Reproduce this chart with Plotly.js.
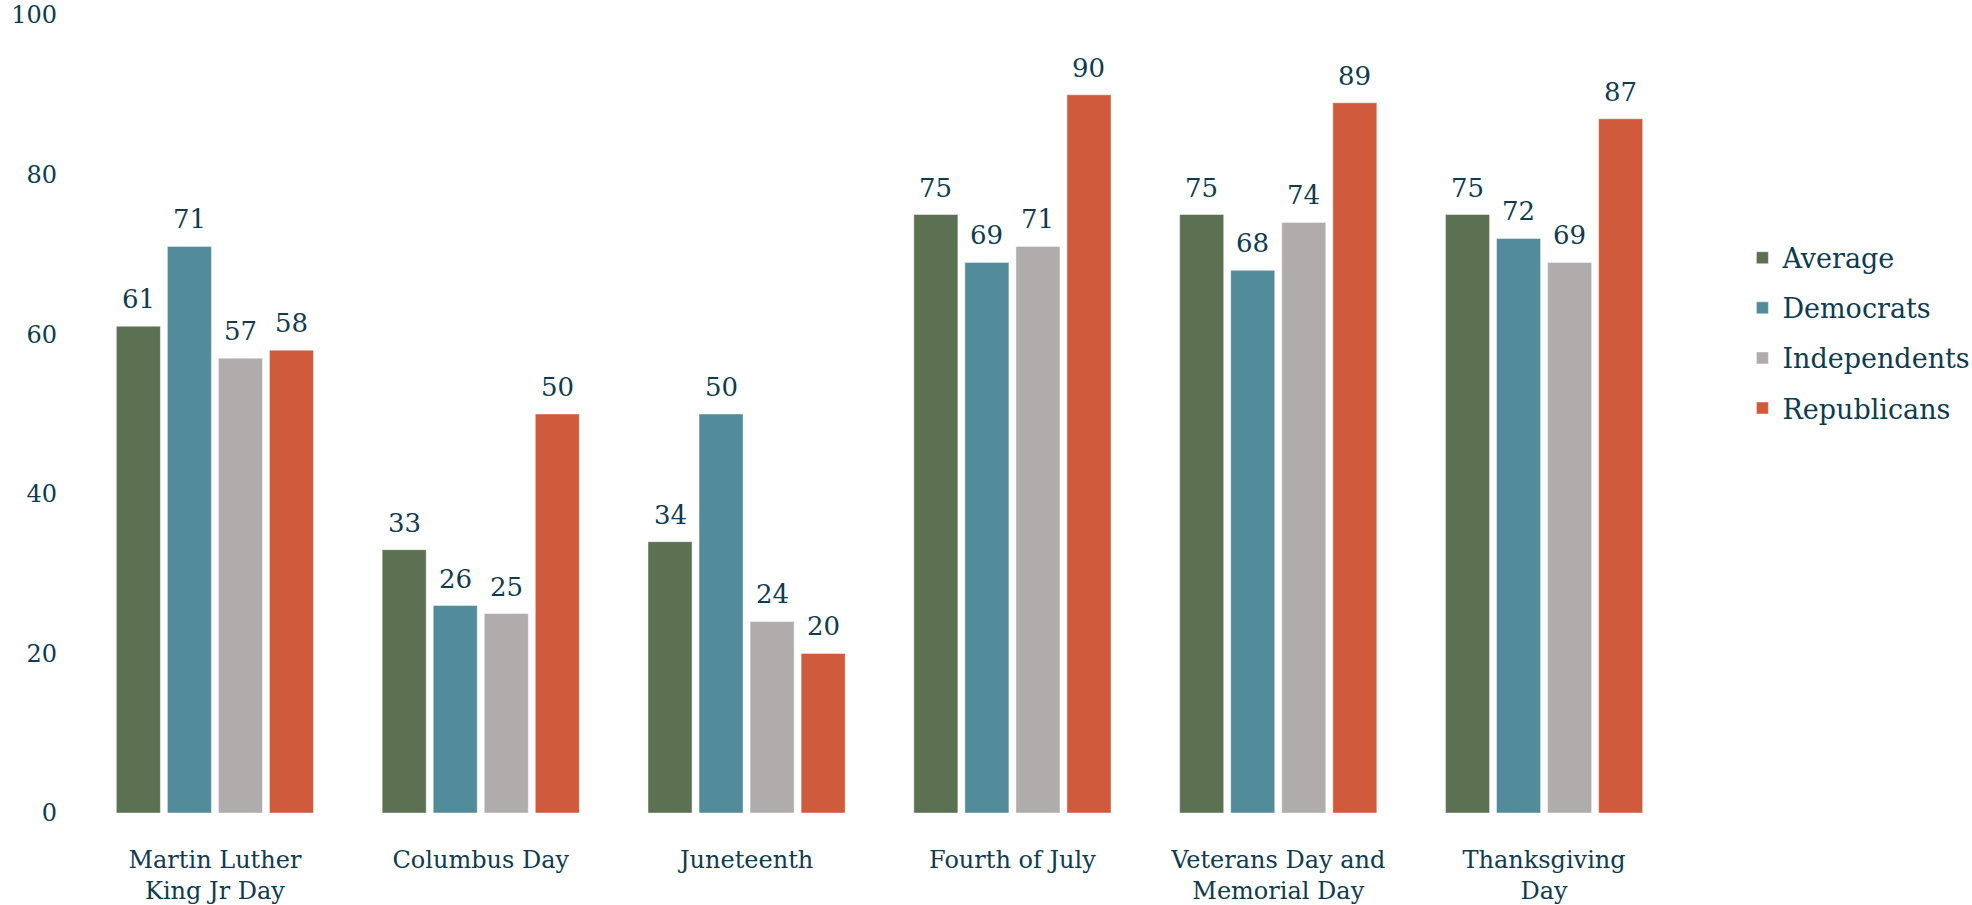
<!DOCTYPE html>
<html>
<head>
<meta charset="utf-8">
<script src="https://cdn.plot.ly/plotly-3.0.1.min.js"></script>
<style>html,body{margin:0;padding:0;background:#fff;}#chart{width:1972px;height:905px;}</style>
</head>
<body>
<div id="chart"></div>
<script>
const categories = ["Martin Luther<br>King Jr Day", "Columbus Day", "Juneteenth", "Fourth of July", "Veterans Day and<br>Memorial Day", "Thanksgiving<br>Day"];
const seriesNames = ["Average", "Democrats", "Independents", "Republicans"];
const average = [61, 33, 34, 75, 75, 75];
const democrats = [71, 26, 50, 69, 68, 72];
const independents = [57, 25, 24, 71, 74, 69];
const republicans = [58, 50, 20, 90, 89, 87];
const yTicks = [0, 20, 40, 60, 80, 100];

const seriesValues = [average, democrats, independents, republicans];
const colors = ["#5C7052", "#528B99", "#AFACAB", "#D05A3C"];
const textColor = "#0E3B50";
const font = "DejaVu Serif, serif";
const bargap = 0.232;

const traces = seriesValues.map((vals, i) => ({
  type: "bar",
  name: seriesNames[i],
  x: categories,
  y: vals,
  legendgroup: "g" + i,
  marker: {color: colors[i], line: {color: "rgba(255,255,255,0.45)", width: 1}},
  hoverinfo: "x+y+name"
}));

const annotations = [];
seriesValues.forEach((vals, i) => {
  vals.forEach((v, c) => {
    annotations.push({
      x: c + (i - 1.5) * (1 - bargap) / 4,
      y: v,
      xref: "x", yref: "y",
      text: String(v),
      showarrow: false,
      yanchor: "bottom",
      yshift: 10,
      font: {family: font, size: 26, color: textColor}
    });
  });
});

const layout = {
  width: 1972, height: 905,
  margin: {l: 82, r: 295, t: 15, b: 92, autoexpand: false},
  paper_bgcolor: "#fff", plot_bgcolor: "#fff",
  barmode: "group",
  bargap: bargap,
  bargroupgap: 0.137,
  font: {family: font, color: textColor},
  xaxis: {
    type: "category",
    showgrid: false, zeroline: false, showline: false,
    ticks: "",
    tickfont: {family: font, size: 24, color: textColor},
    ticklabelstandoff: 30
  },
  yaxis: {
    range: [0, 100],
    tickvals: yTicks,
    ticktext: yTicks.map(String),
    showgrid: false, zeroline: false, showline: false,
    ticks: "",
    tickfont: {family: font, size: 24, color: textColor},
    ticklabelstandoff: 24
  },
  legend: {
    x: 1.041, xanchor: "left",
    y: 0.726, yanchor: "top",
    font: {family: font, size: 27, color: textColor},
    tracegroupgap: 12,
    traceorder: "grouped"
  },
  annotations: annotations
};

Plotly.newPlot("chart", traces, layout, {displayModeBar: false, staticPlot: true});
</script>
</body>
</html>
